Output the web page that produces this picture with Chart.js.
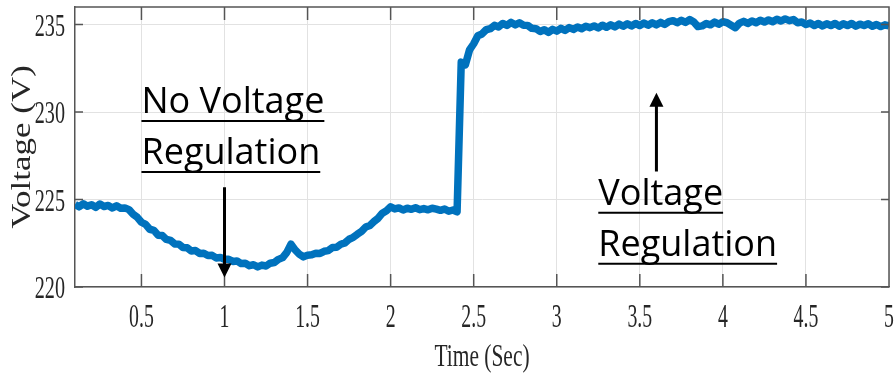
<!DOCTYPE html>
<html><head><meta charset="utf-8">
<script src="https://cdn.jsdelivr.net/npm/chart.js@4/dist/chart.umd.min.js"></script>
<style>html,body{margin:0;padding:0;background:#fff}canvas{display:block}</style>
</head><body>
<canvas id="c" width="896" height="380"></canvas>
<script>
// sampling of the time axis (s)
const T_START = 0.1, T_STEP = 0.025;
// voltage samples (V), one every 25 ms from 0.1 s to 5.0 s
const voltageNoReg1 = [ // 0.100 .. 0.400
  224.72,224.58,224.76,224.62,224.70,224.55,224.74,224.60,224.66,224.52,224.64,224.50,224.52];
const voltageNoReg2 = [ // 0.425 .. 1.000
  224.42,224.16,223.98,223.70,223.58,223.30,223.24,222.96,222.94,222.72,222.66,222.46,
  222.45,222.26,222.24,222.06,222.09,221.92,221.93,221.80,221.81,221.66,221.69,221.58];
const voltageNoReg3 = [ // 1.025 .. 1.400
  221.58,221.46,221.49,221.34,221.36,221.22,221.27,221.15,221.25,221.20,221.36,221.40,
  221.58,221.68,221.98,222.45];
const voltageNoReg4 = [ // 1.425 .. 2.000
  222.12,221.88,221.72,221.82,221.84,221.93,221.92,222.04,222.08,222.26,222.27,222.44,
  222.52,222.73,222.84,223.02,223.18,223.43,223.52,223.74,223.93,224.22,224.36,224.58];
const voltageNoReg5 = [ // 2.025 .. 2.400
  224.46,224.52,224.40,224.50,224.44,224.53,224.42,224.48,224.41,224.50,224.45,224.38,
  224.46,224.33,224.40,224.30];
const voltageReg1 = [ // 2.425 .. 3.200
  232.85,232.70,233.55,233.90,234.36,234.46,234.70,234.76,234.95,234.86,235.06,234.95,
  235.12,234.98,235.10,234.96,234.95,234.78,234.76,234.60,234.70,234.55,234.72,234.62,
  234.78,234.66,234.82,234.72,234.86,234.76,234.90,234.82];
const voltageReg2 = [ // 3.225 .. 4.000
  234.92,234.80,234.96,234.84,234.98,234.86,235.02,234.90,235.04,234.92,235.06,234.94,
  235.08,234.96,235.10,234.98,235.12,235.00,235.16,235.22,235.10,235.24,235.12,235.28,
  235.14,234.88,234.92,235.06,234.98,235.14,235.02,235.16];
const voltageReg3 = [ // 4.025 .. 5.000
  235.10,234.96,234.82,235.08,235.18,235.06,235.20,235.10,235.24,235.14,235.26,235.16,
  235.30,235.20,235.32,235.22,235.28,235.10,235.14,235.00,235.08,234.94,235.06,234.92,
  235.04,234.94,235.06,234.90,235.04,234.94,235.06,234.90,235.02,234.94,235.04,234.90,
  235.00,234.88,234.98,234.92];

const xTicks = [0.5,1,1.5,2,2.5,3,3.5,4,4.5,5];
const xTickLabels = ['0.5','1','1.5','2','2.5','3','3.5','4','4.5','5'];
const yTicks = [220,225,230,235];
const yTickLabels = ['220','225','230','235'];
const xTitle = 'Time (Sec)';
const yTitle = 'Voltage (V)';
const noteTexts = [['No Voltage','Regulation'],['Voltage','Regulation']];
const noteAnchorT = [0.5, 3.25];     // left edge of text (s)
const noteAnchorV = [229.95, 224.7]; // first baseline (V)
const arrowT = [1.0, 3.6];
const arrowFromV = [225.7, 226.6];
const arrowToV = [220.55, 231.1];

const voltage = [].concat(voltageNoReg1,voltageNoReg2,voltageNoReg3,voltageNoReg4,
  voltageNoReg5,voltageReg1,voltageReg2,voltageReg3);
const points = voltage.map((v,i)=>({x:+(T_START+i*T_STEP).toFixed(3), y:v}));

const AX = '#555555';
const TXT = '#262626';
const SERIF = '"Liberation Serif","Times New Roman",serif';

function squashText(ctx, text, x, y, sx, align){
  ctx.save(); ctx.translate(x,y); ctx.scale(sx,1);
  ctx.textAlign = align; ctx.fillText(text,0,0); ctx.restore();
}

const deco = {
  id:'deco',
  afterDraw(chart){
    const {ctx, chartArea:a, scales:{x,y}} = chart;
    ctx.save();
    ctx.strokeStyle = AX; ctx.lineWidth = 1.5;
    ctx.beginPath();
    ctx.moveTo(a.left,a.top); ctx.lineTo(a.right,a.top); ctx.lineTo(a.right,a.bottom);
    xTicks.forEach(v=>{const p=x.getPixelForValue(v);
      ctx.moveTo(p,a.bottom); ctx.lineTo(p,a.bottom-13);
      ctx.moveTo(p,a.top); ctx.lineTo(p,a.top+13);});
    yTicks.forEach(v=>{const p=y.getPixelForValue(v);
      ctx.moveTo(a.left,p); ctx.lineTo(a.left+8,p);
      ctx.moveTo(a.right,p); ctx.lineTo(a.right-8,p);});
    ctx.stroke();

    // tick labels
    ctx.fillStyle = TXT;
    ctx.font = '33px ' + SERIF;
    ctx.textBaseline = 'middle';
    xTicks.forEach((v,i)=>squashText(ctx, xTickLabels[i], x.getPixelForValue(v), a.bottom+31, 0.6, 'center'));
    ctx.font = '32px ' + SERIF;
    yTicks.forEach((v,i)=>squashText(ctx, yTickLabels[i], a.left-10, y.getPixelForValue(v)+3, 0.63, 'right'));
    // titles
    ctx.font = '32px ' + SERIF;
    squashText(ctx, xTitle, (a.left+a.right)/2, a.bottom+71, 0.67, 'center');
    ctx.save();
    ctx.translate(23,(a.top+a.bottom)/2); ctx.rotate(-Math.PI/2); ctx.scale(1,0.75);
    ctx.font = '35px ' + SERIF; ctx.textAlign='center'; ctx.textBaseline='middle';
    ctx.fillText(yTitle,0,0);
    ctx.restore();

    // annotations
    ctx.fillStyle = '#000'; ctx.strokeStyle = '#000';
    ctx.font = '36px "Open Sans", sans-serif';
    ctx.textAlign = 'left'; ctx.textBaseline = 'alphabetic';
    noteTexts.forEach((lines,k)=>{
      const x0 = x.getPixelForValue(noteAnchorT[k]);
      const b0 = y.getPixelForValue(noteAnchorV[k]);
      lines.forEach((s,j)=>{
        const b = b0 + j*51;
        ctx.fillText(s,x0,b);
        const w = ctx.measureText(s).width;
        ctx.lineWidth = 2;
        ctx.beginPath(); ctx.moveTo(x0,b+8); ctx.lineTo(x0+w,b+8); ctx.stroke();
      });
    });
    arrowT.forEach((t,k)=>{
      const px = x.getPixelForValue(t);
      const y1 = y.getPixelForValue(arrowFromV[k]);
      const y2 = y.getPixelForValue(arrowToV[k]);
      const dir = y2 > y1 ? 1 : -1;
      ctx.lineWidth = 3;
      ctx.beginPath(); ctx.moveTo(px,y1); ctx.lineTo(px,y2 - dir*12); ctx.stroke();
      ctx.beginPath(); ctx.moveTo(px,y2); ctx.lineTo(px-7,y2-dir*14); ctx.lineTo(px+7,y2-dir*14); ctx.closePath(); ctx.fill();
    });
    ctx.restore();
  }
};

new Chart(document.getElementById('c'), {
  type:'line',
  data:{datasets:[{data:points, borderColor:'#0072BD', borderWidth:7.5, pointRadius:0,
    tension:0, fill:false, borderJoinStyle:'round', borderCapStyle:'butt'}]},
  options:{
    responsive:false, animation:false, devicePixelRatio:1,
    layout:{padding:{left:0,right:7,top:7,bottom:0}},
    plugins:{legend:{display:false}, tooltip:{enabled:false}},
    scales:{
      x:{type:'linear', min:0.1, max:5,
        afterBuildTicks:s=>{s.ticks = xTicks.map(v=>({value:v}));},
        afterFit:s=>{s.height = 93;},
        ticks:{display:false},
        grid:{color:'#e2e2e2', lineWidth:1, drawTicks:false},
        border:{display:true, color:AX, width:1.5}},
      y:{type:'linear', min:220, max:236,
        afterBuildTicks:s=>{s.ticks = yTicks.map(v=>({value:v}));},
        afterFit:s=>{s.width = 75;},
        ticks:{display:false},
        grid:{color:'#e2e2e2', lineWidth:1, drawTicks:false},
        border:{display:true, color:AX, width:1.5}}
    }
  },
  plugins:[deco]
});
</script>
</body></html>
